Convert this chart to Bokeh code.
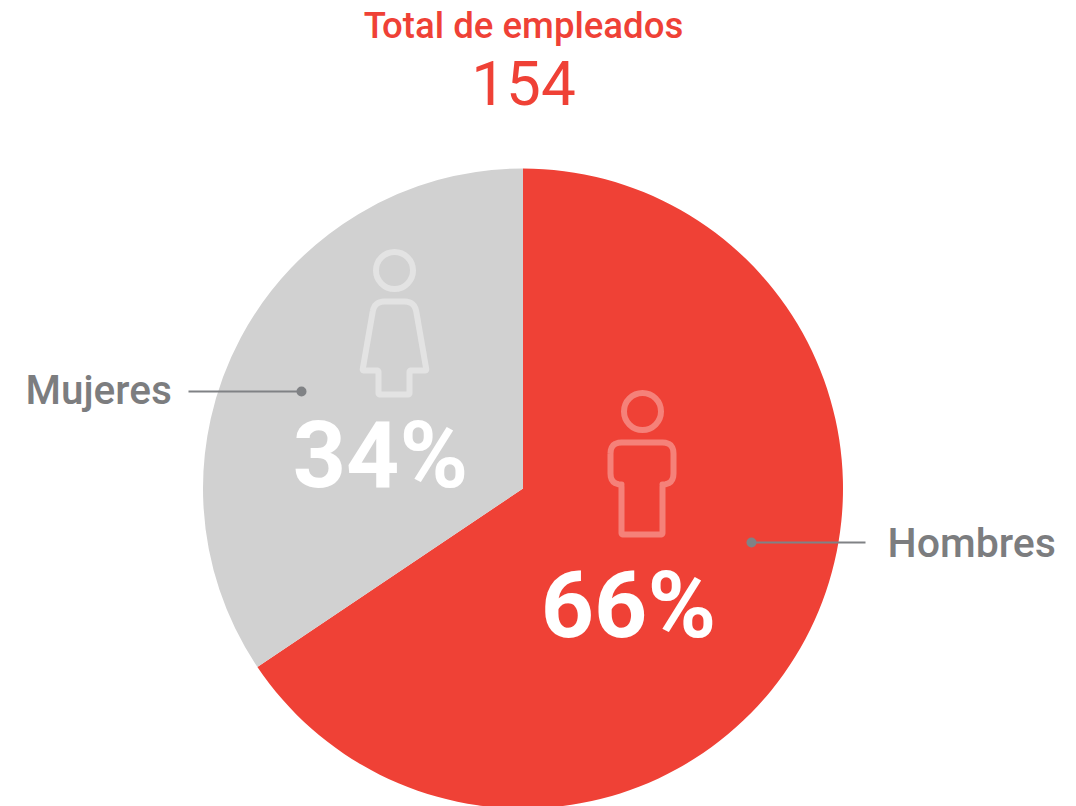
from math import pi, hypot
from bokeh.plotting import figure
from bokeh.core.properties import value
from bokeh.embed import file_html
from bokeh.resources import INLINE

categories = ["Hombres", "Mujeres"]
employees = [101, 53]
shares = ["66%", "34%"]
title_text = "Total de empleados"
total_text = "154"

RED = "#ef4136"
GREY = "#d1d1d1"
LABEL = "#7c7d7f"
LEADER = "#808285"
FONT = "Roboto"

W, H = 1076, 806


def Y(py):
    return H - py


p = figure(width=W, height=H, output_backend="svg", toolbar_location=None,
           x_range=(0, W), y_range=(0, H), min_border=0,
           outline_line_color=None, background_fill_color=None, border_fill_color=None)
p.axis.visible = False
p.grid.visible = False

# pie, clockwise from 12 o'clock
total = sum(employees)
cum = 0.0
starts, ends = [], []
for v in employees:
    a0 = pi / 2 - 2 * pi * cum / total
    cum += v
    a1 = pi / 2 - 2 * pi * cum / total
    starts.append(a1)
    ends.append(a0)
p.wedge(x=[522.5] * 2, y=[Y(488)] * 2, radius=320, start_angle=starts, end_angle=ends,
        fill_color=[RED, GREY], line_color=None)


def rounded(points, r, samples=6):
    out = []
    n = len(points)
    for i in range(n):
        x, y, f = points[i]
        px, py, _ = points[i - 1]
        nx, ny, _ = points[(i + 1) % n]
        rr = r * f
        if rr == 0:
            out.append((x, y))
            continue
        d1 = hypot(px - x, py - y)
        d2 = hypot(nx - x, ny - y)
        ax, ay = x + (px - x) / d1 * rr, y + (py - y) / d1 * rr
        bx, by = x + (nx - x) / d2 * rr, y + (ny - y) / d2 * rr
        for k in range(samples + 1):
            t = k / samples
            out.append(((1 - t) ** 2 * ax + 2 * t * (1 - t) * x + t * t * bx,
                        (1 - t) ** 2 * ay + 2 * t * (1 - t) * y + t * t * by))
    out.append(out[0])
    return [q[0] for q in out], [Y(q[1]) for q in out]


woman = [(374, 301, 1), (414, 301, 1), (426, 370, 0.15), (409, 370, 0.15), (409, 394, 0.15),
         (378, 394, 0.15), (378, 370, 0.15), (362, 370, 0.15)]
man = [(610, 442, 1), (673, 442, 1), (673, 484, 1), (662, 484, 0.2), (662, 534, 0.15),
       (621, 534, 0.15), (621, 484, 0.2), (610, 484, 1)]

for shape, head, col, rad in [(woman, (394, 270), "#e3e3e3", 10), (man, (642, 411), "#f58179", 11)]:
    xs, ys = rounded(shape, rad)
    p.line(xs, ys, line_color=col, line_width=6, line_join="round")
    p.circle(x=[head[0]], y=[Y(head[1])], radius=18.5, fill_color=None, line_color=col, line_width=6)

# leader lines
p.line([188, 301], [Y(391), Y(391)], line_color=LEADER, line_width=2)
p.line([750, 865], [Y(542), Y(542)], line_color=LEADER, line_width=2)
p.scatter([301, 751], [Y(391), Y(542)], size=10, marker="circle", fill_color=LEADER, line_color=None)


def text(x, py, s, size, color, align="center", style="bold", font=FONT):
    p.text(x=[x], y=[Y(py - 0.36 * size)], text=[s], text_font=value(font), text_font_size=f"{size}px",
           text_color=color, text_align=align, text_baseline="alphabetic", text_font_style=style)


text(523, 38, title_text, 36.5, RED, style="normal", font="Roboto Medium")
text(523, 105, total_text, 62, RED, style="normal", font="Roboto")
text(380, 488, shares[1], 93, "#ffffff")
text(628, 638, shares[0], 93, "#ffffff")
text(25, 404, categories[1], 40.5, LABEL, "left", style="normal", font="Roboto Medium")
text(887, 557, categories[0], 41, LABEL, "left", style="normal", font="Roboto Medium")

open("out.html", "w").write(file_html(p, INLINE))
